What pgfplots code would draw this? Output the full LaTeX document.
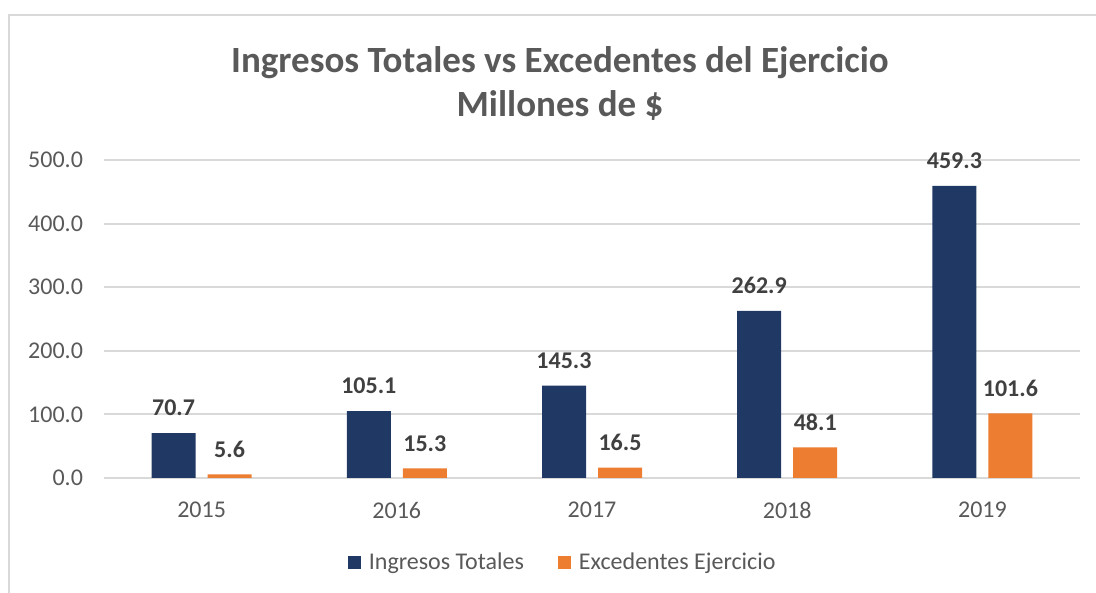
\documentclass[border=0pt]{standalone}
\usepackage{fontspec}
\setmainfont{Carlito}
\usepackage{pgfplots}
\pgfplotsset{compat=1.18}
\definecolor{navy}{HTML}{1F3864}
\definecolor{orng}{HTML}{ED7D31}
\definecolor{txt}{HTML}{595959}
\definecolor{lbl}{HTML}{404040}
\definecolor{grd}{HTML}{D9D9D9}

\begin{document}
\begin{tikzpicture}
% page = 1096 x 593 px, 1 px = 0.5pt
\useasboundingbox (0,0) rectangle (548pt,296.5pt);
\draw[grd, line width=1pt] (4.5pt,0) -- (4.5pt,289pt) -- (548pt,289pt);

\node[txt, font=\fontsize{18.5}{22}\selectfont\bfseries, align=center]
  at (280pt,255pt) {Ingresos Totales vs Excedentes del Ejercicio\\Millones de \$};

\begin{axis}[
    at={(52pt,57.5pt)}, anchor=south west,
    scale only axis,
    width=488pt, height=159pt,
    ybar=6pt,
    bar width=22pt,
    xmin=-0.5, xmax=4.5,
    ymin=0, ymax=500,
    xtick=data,
    xticklabels={2015,2016,2017,2018,2019},
    ytick={0,100,200,300,400,500},
    ymajorgrids,
    grid style={grd, line width=1pt},
    axis line style={draw=none},
    major tick length=0pt,
    tick label style={txt, font=\fontsize{12}{14}\selectfont},
    yticklabel style={/pgf/number format/fixed, /pgf/number format/fixed zerofill,
        /pgf/number format/precision=1, /pgf/number format/assume math mode=true, xshift=-7pt},
    xticklabel style={yshift=-8.5pt},
    nodes near coords={\pgfmathprintnumber[fixed,fixed zerofill,precision=1,assume math mode=true]{\pgfplotspointmeta}},
    every node near coord/.append style={lbl, font=\fontsize{12}{14}\selectfont\bfseries, yshift=5pt},
    legend style={at={(0.471,-0.267)}, anchor=center, legend columns=2, draw=none,
        font=\fontsize{12}{14}\selectfont, text=txt,
        /tikz/every even column/.append style={column sep=15pt}},
    legend image code/.code={\fill[#1] (0pt,-3.25pt) rectangle (6.5pt,3.25pt); \path (8.5pt,0pt);},
]
\addplot[fill=navy, draw=none] coordinates {(0,70.7) (1,105.1) (2,145.3) (3,262.9) (4,459.3)};
\addplot[fill=orng, draw=none] coordinates {(0,5.6) (1,15.3) (2,16.5) (3,48.1) (4,101.6)};
\legend{Ingresos Totales, Excedentes Ejercicio}
\end{axis}
\end{tikzpicture}
\end{document}
